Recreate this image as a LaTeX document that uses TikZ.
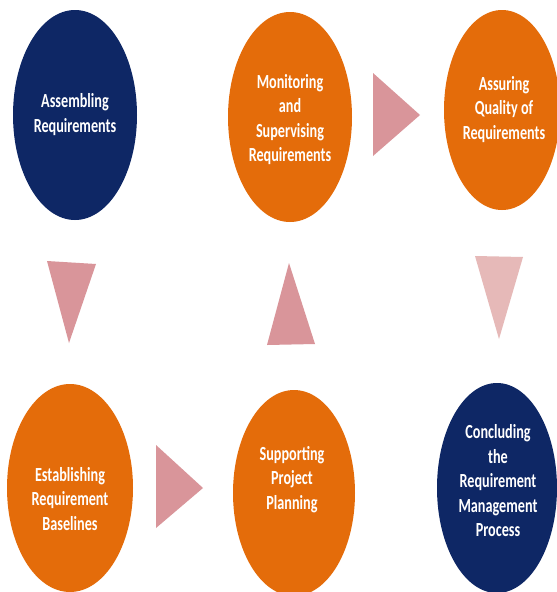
\documentclass[tikz,border=0pt]{standalone}
\usepackage{fontspec}
\usepackage{graphicx}
\setmainfont{Carlito}
\usetikzlibrary{shapes.geometric}
\definecolor{navyfill}{HTML}{0E2765}
\definecolor{orangefill}{HTML}{E46C0A}
\definecolor{pinkarrow}{HTML}{D9959A}
\definecolor{lightpinkarrow}{HTML}{E6B9B8}
% condensed multi-line label
\newcommand{\squeezedtext}[1]{\scalebox{0.71}[1]{\begin{tabular}{@{}c@{}}#1\end{tabular}}}
\begin{document}
\begin{tikzpicture}[x=1pt,y=-1pt,
  stage/.style={ellipse, inner sep=0pt, draw=none},
  navystage/.style={stage, fill=navyfill},
  orangestage/.style={stage, fill=orangefill},
  label/.style={text=white, font=\fontsize{20}{24.5}\selectfont\bfseries, inner sep=0pt}]
\useasboundingbox (0,0) rectangle (557,592);
\fill[white] (0,0) rectangle (557,592);
\begin{scope}
\clip (0,0) rectangle (557,592);
% stages
\node[navystage, minimum width=124pt, minimum height=210pt] (e1) at (75,115) {};
\node[orangestage, minimum width=124pt, minimum height=210pt] (e2) at (290,117) {};
\node[orangestage, minimum width=116pt, minimum height=200pt] (e3) at (502,110) {};
\node[orangestage, minimum width=126pt, minimum height=208pt] (e4) at (70,488) {};
\node[orangestage, minimum width=122pt, minimum height=206pt] (e5) at (294,493) {};
\node[navystage, minimum width=120pt, minimum height=210pt] (e6) at (497,488) {};
\end{scope}
% stage captions
\node[label] (t1) at (75,115) {\squeezedtext{Assembling\\Requirements}};
\node[label] (t2) at (290,120) {\squeezedtext{Monitoring\\and\\Supervising\\Requirements}};
\node[label] (t3) at (504,110) {\squeezedtext{Assuring\\Quality of\\Requirements}};
\node[label] (t4) at (70,501) {\squeezedtext{Establishing\\Requirement\\Baselines}};
\node[label] (t5) at (292,480) {\squeezedtext{Supporting\\Project\\Planning}};
\node[label] (t6) at (498,483) {\squeezedtext{Concluding\\the\\Requirement\\Management\\Process}};
% flow arrows
\fill[pinkarrow] (47,261) -- (96,264) -- (69,343) -- cycle;          % e1 -> e4
\fill[pinkarrow] (156,445) -- (203,488) -- (156,528) -- cycle;       % e4 -> e5
\fill[pinkarrow] (267,345) -- (289,263) -- (315,344) -- cycle;       % e5 -> e2
\fill[pinkarrow] (373,73) -- (420,115) -- (373,156) -- cycle;        % e2 -> e3
\fill[lightpinkarrow] (475,256) -- (523,257) -- (499,339) -- cycle;  % e3 -> e6
\end{tikzpicture}
\end{document}
